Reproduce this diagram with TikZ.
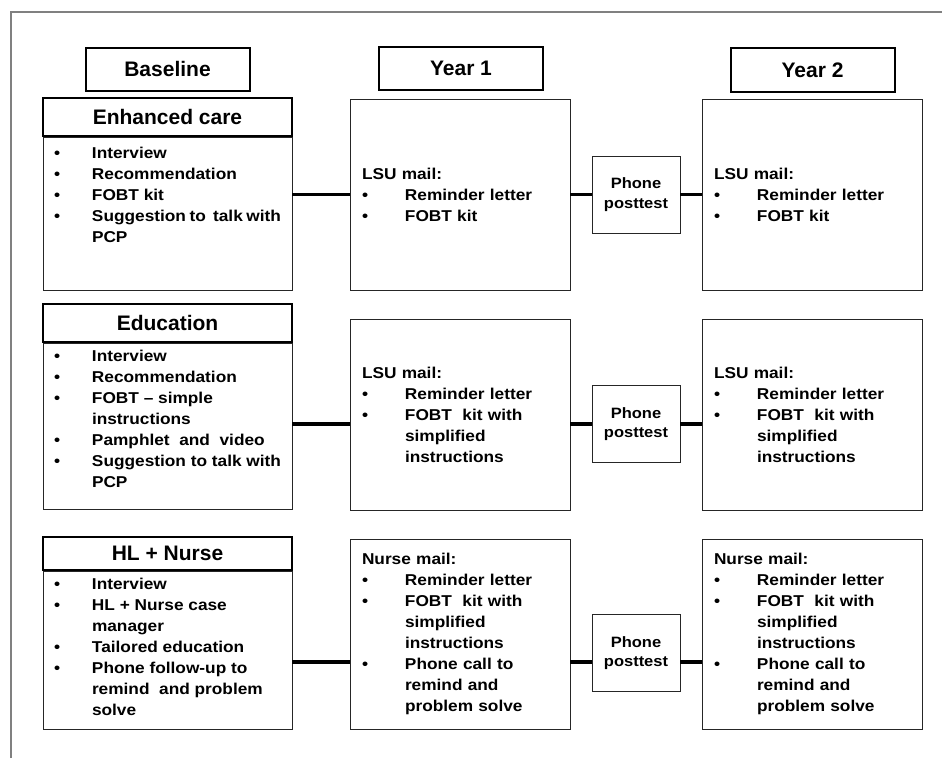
\documentclass[tikz,border=0pt]{standalone}
\usepackage{fontspec}
\setmainfont{Liberation Sans}
\newfontfamily\bodyfont{Liberation Sans}[FakeStretch=1.1]
\newlength{\bulw}
\newcommand{\bul}[1]{\makebox[\bulw][l]{\textbullet}#1}
\newcommand{\cnt}[1]{\hspace*{\bulw}#1}
\newcommand{\toplist}[2]{\parbox[c][#1][t]{227pt}{\rule{0pt}{18pt}#2}}

\begin{document}
\begin{tikzpicture}[x=1pt,y=-1pt]
	\tikzset{hdr/.style={draw,line width=2pt,inner sep=0pt,font=\fontsize{21}{25}\selectfont\bfseries}}
	\tikzset{colhdr/.style={hdr,minimum width=164pt,minimum height=43pt}}
	\tikzset{armhdr/.style={hdr,minimum width=249pt,minimum height=38pt}}
	\tikzset{armbox/.style={draw=black!85,line width=0.9pt,anchor=north,inner xsep=11pt,inner ysep=0pt,
		font=\bodyfont\bfseries\fontsize{15.7}{21}\selectfont\setlength{\bulw}{38pt}}}
	\tikzset{yearbox/.style={draw=black!85,line width=0.9pt,minimum width=220pt,minimum height=191pt,
		inner xsep=12pt,text width=196pt,align=left,
		font=\bodyfont\bfseries\fontsize{15.7}{21}\selectfont\setlength{\bulw}{43pt}}}
	\tikzset{phonebox/.style={draw=black!85,line width=0.9pt,minimum width=88pt,minimum height=77pt,
		inner sep=0pt,align=center,font=\bodyfont\bfseries\fontsize{15}{19.3}\selectfont}}
	\tikzset{link/.style={line width=3.5pt}}
	\useasboundingbox (0,0) rectangle (942,758);
	\draw[black!50,line width=1.8pt] (11,758) -- (11,12) -- (942,12);

	\node[colhdr] (base) at (167.5,69) {Baseline};
	\node[colhdr] (yr1) at (461,68.5) {Year 1};
	\node[colhdr,minimum height=44pt] (yr2) at (812.5,70) {Year 2};

	\node[armbox] (enh) at (167.5,137) {\toplist{153pt}{\rule{0pt}{21pt}\bul{Interview}\\\bul{Recommendation}\\\bul{FOBT kit}\\
		\bul{Suggestion to\ \ talk with}\\\cnt{PCP}}};
	\node[armhdr,anchor=south] (enhhdr) at (enh.north) {Enhanced care};
	\node[yearbox] (y11) at (460,194.5) {LSU mail:\\\bul{Reminder letter}\\\bul{FOBT kit}};
	\node[phonebox] (p1) at (636,194.5) {Phone\\posttest};
	\node[yearbox] (y21) at (812,194.5) {LSU mail:\\\bul{Reminder letter}\\\bul{FOBT kit}};

	\node[armbox] (edu) at (167.5,343) {\toplist{166pt}{\bul{Interview}\\\bul{Recommendation}\\\bul{FOBT \textendash{} simple}\\
		\cnt{instructions}\\\bul{Pamphlet\ \ and\ \ video}\\\bul{Suggestion to talk with}\\\cnt{PCP}}};
	\node[armhdr,anchor=south] (eduhdr) at (edu.north) {Education};
	\node[yearbox] (y12) at (460,414.5) {LSU mail:\\\bul{Reminder letter}\\\bul{FOBT\ \ kit with}\\
		\cnt{simplified}\\\cnt{instructions}};
	\node[phonebox] (p2) at (636,424) {Phone\\posttest};
	\node[yearbox] (y22) at (812,414.5) {LSU mail:\\\bul{Reminder letter}\\\bul{FOBT\ \ kit with}\\
		\cnt{simplified}\\\cnt{instructions}};

	\node[armbox] (hln) at (167.5,571) {\toplist{158pt}{\bul{Interview}\\\bul{HL + Nurse case}\\
		\cnt{manager}\\\bul{Tailored education}\\\bul{Phone follow-up to}\\\cnt{remind\ \ and problem}\\\cnt{solve}}};
	\node[armhdr,anchor=south,minimum height=33pt] (hlnhdr) at (hln.north) {HL + Nurse};
	\node[yearbox,minimum height=190pt] (y13) at (460,634) {Nurse mail:\\\bul{Reminder letter}\\\bul{FOBT\ \ kit with}\\
		\cnt{simplified}\\\cnt{instructions}\\\bul{Phone call to}\\\cnt{remind and}\\\cnt{problem solve}};
	\node[phonebox] (p3) at (636,653) {Phone\\posttest};
	\node[yearbox,minimum height=190pt] (y23) at (812,634) {Nurse mail:\\\bul{Reminder letter}\\\bul{FOBT\ \ kit with}\\
		\cnt{simplified}\\\cnt{instructions}\\\bul{Phone call to}\\\cnt{remind and}\\\cnt{problem solve}};
	\coordinate (r3) at (636,662);

	\draw[link] (y11.west -| enh.east) -- (y11.west);
	\draw[link] (y11.east) -- (p1.west);
	\draw[link] (p1.east) -- (y21.west);
	\draw[link] (p2.west -| edu.east) -- (p2.west -| y12.west);
	\draw[link] (p2.west -| y12.east) -- (p2.west);
	\draw[link] (p2.east) -- (p2.east -| y22.west);
	\draw[link] (r3 -| hln.east) -- (r3 -| y13.west);
	\draw[link] (r3 -| y13.east) -- (r3 -| p3.west);
	\draw[link] (r3 -| p3.east) -- (r3 -| y23.west);
\end{tikzpicture}
\end{document}
